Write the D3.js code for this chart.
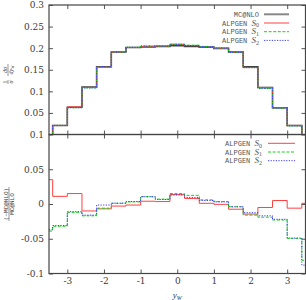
<!DOCTYPE html>
<html>
<head>
<meta charset="utf-8">
<script src="https://cdn.jsdelivr.net/npm/d3@7"></script>
<style>
  body { margin: 0; background: #fff; }
  svg { display: block; }
</style>
</head>
<body>
<div id="chart"></div>
<script>
// ── Data ──
const topEdges = [-3.4, -3.0, -2.6, -2.2, -1.8, -1.4, -1.0, -0.6, -0.2, 0.2, 0.6, 1.0, 1.4, 1.8, 2.2, 2.6, 3.0, 3.4];
const mcnlo  = [0.021, 0.063, 0.110, 0.157, 0.191, 0.2015, 0.203, 0.204, 0.206, 0.204, 0.2025, 0.1995, 0.191, 0.157, 0.109, 0.062, 0.021];
const alpS0  = [0.021, 0.064, 0.109, 0.156, 0.191, 0.2015, 0.204, 0.205, 0.209, 0.206, 0.2025, 0.1995, 0.190, 0.155, 0.109, 0.062, 0.021];
const alpS1  = [0.021, 0.062, 0.108, 0.156, 0.191, 0.202, 0.205, 0.205, 0.209, 0.207, 0.204, 0.200, 0.190, 0.155, 0.107, 0.061, 0.020];
const alpS2  = [0.021, 0.062, 0.108, 0.157, 0.191, 0.202, 0.205, 0.205, 0.209, 0.206, 0.2035, 0.200, 0.190, 0.155, 0.107, 0.061, 0.020];

const ratioEdges = [-3.5, -3.4, -3.0, -2.6, -2.2, -1.8, -1.4, -1.0, -0.6, -0.2, 0.2, 0.6, 1.0, 1.4, 1.8, 2.2, 2.6, 3.0, 3.4, 3.5];
const ratioS0 = [0.035, 0.011, 0.015, -0.010, -0.007, -0.003, -0.0015, 0.004, 0.0035, 0.0135, 0.008, 0.001, -0.0005, -0.0075, -0.0145, -0.005, 0.005, -0.006, 0.001];
const ratioS1 = [-0.039, -0.032, -0.012, -0.017, -0.006, 0.001, 0.003, 0.0105, 0.007, 0.015, 0.0125, 0.006, 0.0035, -0.004, -0.016, -0.019, -0.023, -0.0495, -0.081];
const ratioS2 = [-0.037, -0.031, -0.011, -0.016, -0.0015, 0.0012, 0.0035, 0.0105, 0.0065, 0.013, 0.0095, 0.005, 0.003, -0.004, -0.0125, -0.017, -0.022, -0.049, -0.088];

const xTicks = [-3, -2, -1, 0, 1, 2, 3];
const xTickLabels = ['-3', '-2', '-1', '0', '1', '2', '3'];
const topTicks = [0.05, 0.1, 0.15, 0.2, 0.25, 0.3];
const topTickLabels = ['0.05', '0.1', '0.15', '0.2', '0.25', '0.3'];
const ratioTicks = [-0.1, -0.05, 0, 0.05, 0.1];
const ratioTickLabels = ['-0.1', '-0.05', '0', '0.05', '0.1'];

const W = 306, H = 300;
const L = 49, R = 305.5, T = 5, MID = 134.5, B = 273.5;

const SERIES = [
  { key: 'S0', color: '#ff4040', dash: null },
  { key: 'S1', color: '#19d019', dash: '3,1.6' },
  { key: 'S2', color: '#3a3aff', dash: '1.2,1.4' },
];

const svg = d3.select('#chart').append('svg')
  .attr('width', W)
  .attr('height', H);

const x = d3.scaleLinear().domain([-3.5, 3.5]).range([L, R]);
const yTop = d3.scaleLinear().domain([0, 0.3]).range([MID, T]);
const yRat = d3.scaleLinear().domain([-0.1, 0.1]).range([B, MID]);

const tickFont = '"DejaVu Serif", serif';

// step path helper: bins -> points for curveStepAfter
function stepPoints(edges, vals, base) {
  const pts = vals.map((v, i) => [edges[i], v]);
  pts.push([edges[edges.length - 1], vals[vals.length - 1]]);
  if (base !== undefined) {
    pts.unshift([edges[0], base]);
    pts.push([edges[edges.length - 1], base]);
  }
  return pts;
}

function drawAxes(y, ticks, labels, y0, y1) {
  const fmt = d => labels[ticks.indexOf(d)];
  const left = svg.append('g')
    .attr('transform', `translate(${L},0)`)
    .call(d3.axisLeft(y).tickValues(ticks).tickSize(-4).tickPadding(5).tickFormat(fmt));
  const right = svg.append('g')
    .attr('transform', `translate(${R},0)`)
    .call(d3.axisRight(y).tickValues(ticks).tickSize(-4).tickFormat(''));
  const bottom = svg.append('g')
    .attr('transform', `translate(0,${y0})`)
    .call(d3.axisBottom(x).tickValues(xTicks).tickSize(-4).tickFormat(''));
  const top = svg.append('g')
    .attr('transform', `translate(0,${y1})`)
    .call(d3.axisTop(x).tickValues(xTicks).tickSize(-4).tickFormat(''));
  [left, right, bottom, top].forEach(g => {
    g.select('.domain').remove();
    g.selectAll('line').attr('stroke', '#555').attr('stroke-width', 1);
    g.selectAll('text').attr('font-family', tickFont).attr('font-size', 9).attr('fill', '#3a3a3a');
  });
}

drawAxes(yTop, topTicks, topTickLabels, MID, T);
drawAxes(yRat, ratioTicks, ratioTickLabels, B, MID);

// x tick labels under the ratio panel
svg.append('g')
  .attr('transform', `translate(0,${B})`)
  .call(d3.axisBottom(x).tickValues(xTicks).tickSize(0).tickPadding(4)
    .tickFormat(d => xTickLabels[xTicks.indexOf(d)]))
  .call(g => g.select('.domain').remove())
  .selectAll('text')
  .attr('font-family', tickFont).attr('font-size', 9).attr('fill', '#3a3a3a');

// ── Histograms ──
const line = (xs, ys) => d3.line().x(d => xs(d[0])).y(d => ys(d[1])).curve(d3.curveStepAfter);
const lineTop = line(x, yTop);
const lineRat = line(x, yRat);

svg.append('defs').append('clipPath').attr('id', 'clipRat')
  .append('rect').attr('x', L).attr('y', MID).attr('width', R - L).attr('height', B - MID);

svg.append('path')
  .attr('d', lineTop(stepPoints(topEdges, mcnlo, 0)))
  .attr('fill', 'none').attr('stroke', '#444').attr('stroke-width', 1.6);

const topData = { S0: alpS0, S1: alpS1, S2: alpS2 };
const ratData = { S0: ratioS0, S1: ratioS1, S2: ratioS2 };

SERIES.forEach(s => {
  svg.append('path')
    .attr('d', lineTop(stepPoints(topEdges, topData[s.key], 0)))
    .attr('fill', 'none').attr('stroke', s.color).attr('stroke-width', 1)
    .attr('stroke-dasharray', s.dash);
});
SERIES.forEach(s => {
  svg.append('path')
    .attr('clip-path', 'url(#clipRat)')
    .attr('d', lineRat(stepPoints(ratioEdges, ratData[s.key])))
    .attr('fill', 'none').attr('stroke', s.color).attr('stroke-width', 1)
    .attr('stroke-dasharray', s.dash);
});

// ── Frames ──
svg.append('rect').attr('x', L).attr('y', T).attr('width', R - L).attr('height', MID - T)
  .attr('fill', 'none').attr('stroke', '#444').attr('stroke-width', 1.2);
svg.append('rect').attr('x', L).attr('y', MID).attr('width', R - L).attr('height', B - MID)
  .attr('fill', 'none').attr('stroke', '#444').attr('stroke-width', 1.2);

// ── Legends ──
const mono = '"Liberation Mono", "DejaVu Sans Mono", monospace';
const serif = '"Liberation Serif", "DejaVu Serif", serif';

function legendLabel(g, tx, ty, key) {
  const t = g.append('text').attr('x', tx).attr('y', ty).attr('text-anchor', 'end')
    .attr('fill', '#555');
  if (key === 'MC') {
    t.append('tspan').attr('font-family', mono).attr('font-size', 7).text('MC@NLO');
    return;
  }
  t.append('tspan').attr('font-family', mono).attr('font-size', 7).text('ALPGEN ');
  t.append('tspan').attr('font-family', serif).attr('font-style', 'italic').attr('font-size', 9).text('S');
  t.append('tspan').attr('font-family', serif).attr('font-size', 6).attr('dy', 1.8).text(key.slice(1));
}

const topLegend = [
  { key: 'MC', color: '#888', dash: null, width: 2 },
  ...SERIES.map(s => ({ ...s, width: 1 })),
];
const lg1 = svg.append('g');
topLegend.forEach((d, i) => {
  const yy = 14.3 + i * 8.7;
  legendLabel(lg1, 259, yy + 2.5, d.key);
  lg1.append('line').attr('x1', 264).attr('x2', 289).attr('y1', yy).attr('y2', yy)
    .attr('stroke', d.color).attr('stroke-width', d.width).attr('stroke-dasharray', d.dash);
});

const lg2 = svg.append('g');
SERIES.forEach((d, i) => {
  const yy = 143.3 + i * 8.7;
  legendLabel(lg2, 262, yy + 2.5, d.key);
  lg2.append('line').attr('x1', 268).attr('x2', 295).attr('y1', yy).attr('y2', yy)
    .attr('stroke', d.color).attr('stroke-width', 1).attr('stroke-dasharray', d.dash);
});

// ── Axis titles ──
svg.append('text')
  .attr('x', x(0)).attr('y', 298)
  .attr('text-anchor', 'middle').attr('fill', '#333')
  .call(t => {
    t.append('tspan').attr('font-family', serif).attr('font-style', 'italic').attr('font-size', 9).text('y');
    t.append('tspan').attr('font-family', serif).attr('font-style', 'italic').attr('font-size', 6).attr('dy', 1.5).text('W');
  });

// top y title: 1/σ dσ/dy_W, rotated
const yt = svg.append('g').attr('transform', 'translate(8,73) rotate(-90)')
  .attr('font-family', serif).attr('font-size', 6).attr('fill', '#333');
yt.append('text').attr('x', -9).attr('y', -1.2).attr('text-anchor', 'middle').text('1');
yt.append('text').attr('x', -9).attr('y', 5).attr('text-anchor', 'middle').attr('font-style', 'italic').text('σ');
yt.append('line').attr('x1', -11).attr('x2', -7).attr('y1', 0).attr('y2', 0).attr('stroke', '#333').attr('stroke-width', 0.5);
yt.append('text').attr('x', 3).attr('y', -1.2).attr('text-anchor', 'middle').attr('font-style', 'italic').text('dσ');
yt.append('text').attr('x', 3).attr('y', 5).attr('text-anchor', 'middle').attr('font-style', 'italic')
  .call(t => {
    t.append('tspan').text('dy');
    t.append('tspan').attr('font-size', 4).attr('dy', 1).text('W');
  });
yt.append('line').attr('x1', -3).attr('x2', 9).attr('y1', 0).attr('y2', 0).attr('stroke', '#333').attr('stroke-width', 0.5);

// ratio y title
const yr = svg.append('g').attr('transform', `translate(9,${yRat(0)}) rotate(-90)`)
  .attr('font-family', mono).attr('font-size', 6).attr('fill', '#333');
yr.append('text').attr('x', 0).attr('y', -1.3).attr('text-anchor', 'middle').text('(\u2212MC@NLO)');
yr.append('text').attr('x', 0).attr('y', 5).attr('text-anchor', 'middle').text('MC@NLO');
yr.append('line').attr('x1', -17).attr('x2', 17).attr('y1', 0).attr('y2', 0).attr('stroke', '#333').attr('stroke-width', 0.5);
</script>
</body>
</html>
